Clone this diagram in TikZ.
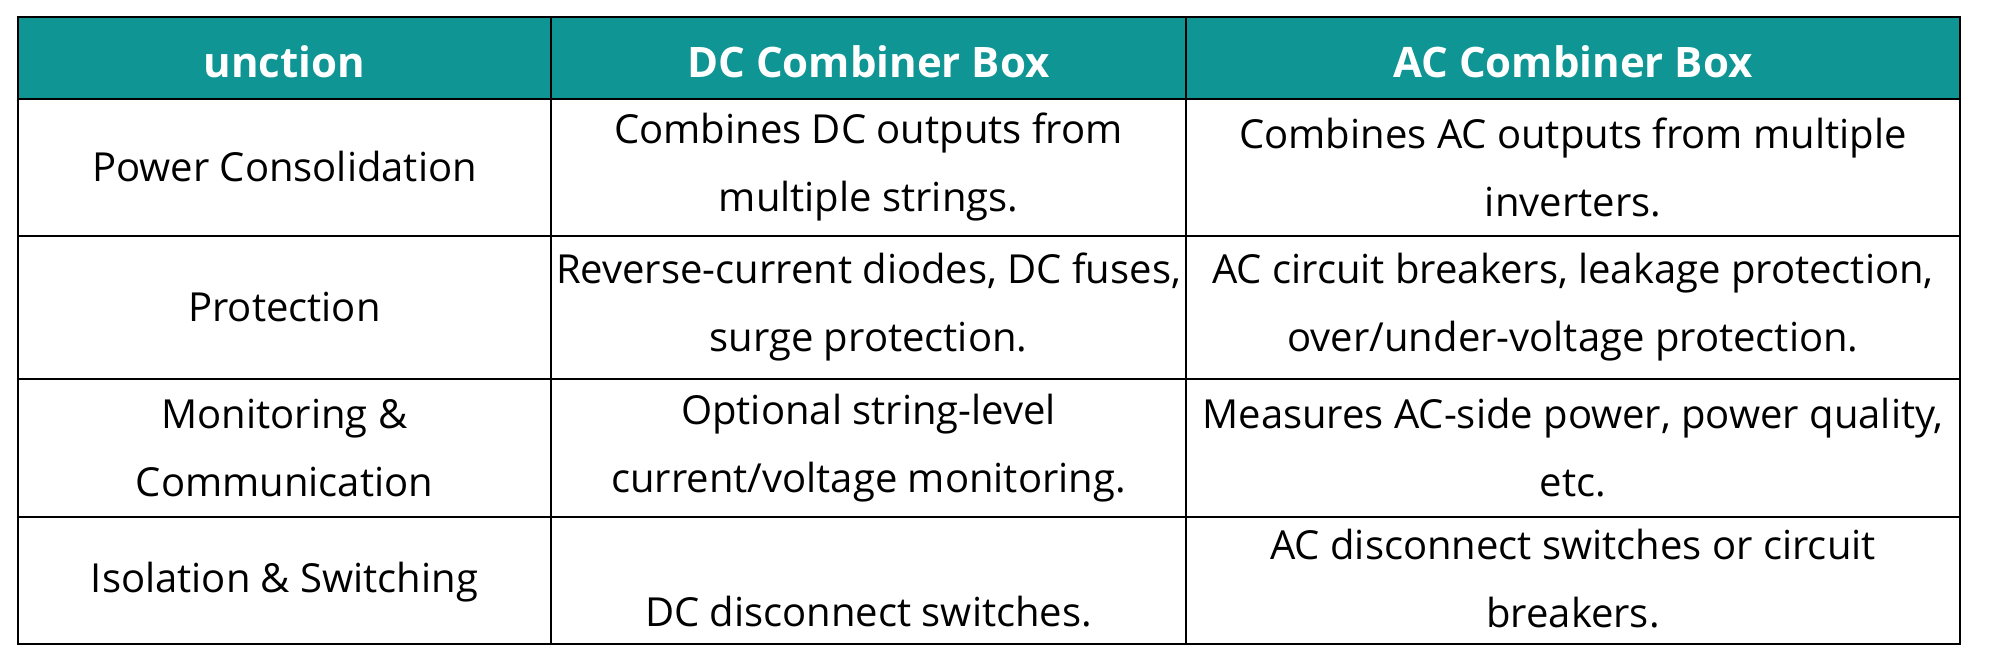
\documentclass[tikz,border=0pt]{standalone}
\usepackage{fontspec}
\setmainfont{Open Sans}
\usetikzlibrary{positioning}
\definecolor{headteal}{HTML}{0E9594}

\begin{document}
\begin{tikzpicture}[x=0.5pt, y=-0.5pt,
    every node/.style={font=\fontsize{20}{34}\selectfont, align=center},
    headcell/.style={text=white, font=\fontsize{21}{34}\selectfont\bfseries},
    gridline/.style={line width=1pt}]
  \useasboundingbox (0,0) rectangle (2000,662);
  % Header band
  \fill[headteal] (18,17) rectangle (1960,99);
  % Grid
  \draw[gridline] (18,17) rectangle (1960,644);
  \foreach \y in {99,236,379,517} \draw[gridline] (18,\y) -- (1960,\y);
  \foreach \x in {551,1186} \draw[gridline] (\x,17) -- (\x,644);

  % Header
  \node[headcell] (hfun) at (284.5,62) {unction};
  \node[headcell] (hdc) at (868.5,62) {DC Combiner Box};
  \node[headcell] (hac) at (1573,62) {AC Combiner Box};

  % Rows
  \node (fpower) at (284.5,167) {Power Consolidation};
  \node (dpower) at (868.5,167) {Combines DC outputs from\\multiple strings.};
  \node (apower) at (1573,167) {Combines AC outputs from multiple\\inverters.};

  \node (fprot) at (284.5,307) {Protection};
  \node (dprot) at (868.5,307) {Reverse-current diodes, DC fuses,\\surge protection.};
  \node (aprot) at (1573,307) {AC circuit breakers, leakage protection,\\over/under-voltage protection.};

  \node (fmon) at (284.5,448) {Monitoring \&\\Communication};
  \node (dmon) at (868.5,448) {Optional string-level\\current/voltage monitoring.};
  \node (amon) at (1573,448) {Measures AC-side power, power quality,\\etc.};

  \node (fiso) at (284.5,582) {Isolation \& Switching};
  \node (diso) at (868.5,612) {DC disconnect switches.};
  \node (aiso) at (1573,579) {AC disconnect switches or circuit\\breakers.};
\end{tikzpicture}
\end{document}
